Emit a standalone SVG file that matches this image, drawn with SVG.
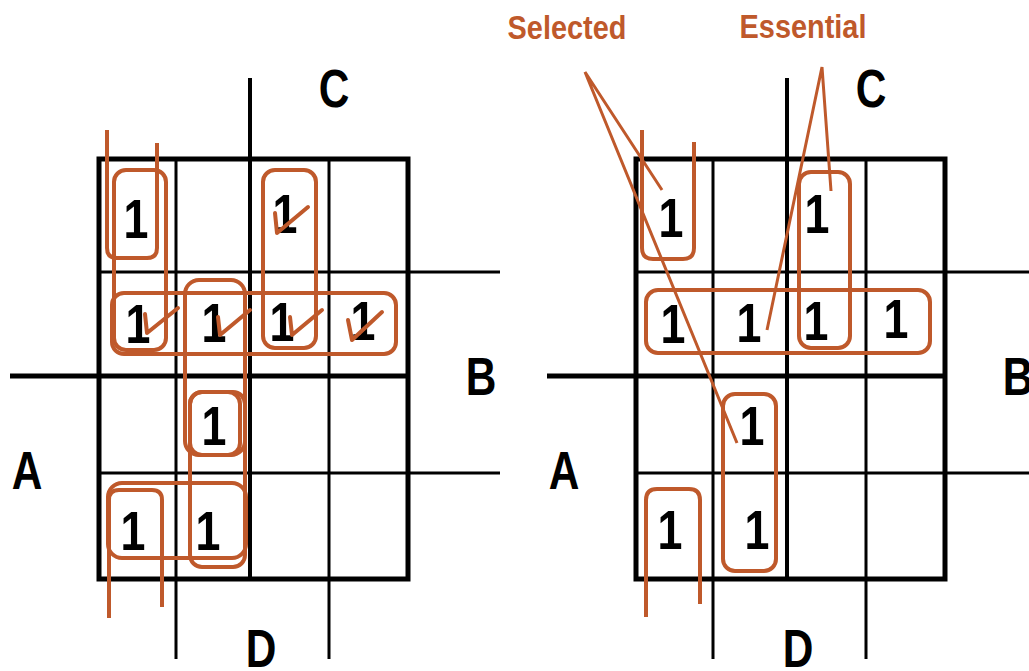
<svg xmlns="http://www.w3.org/2000/svg" xmlns:xlink="http://www.w3.org/1999/xlink" width="1029" height="671" viewBox="0 0 1029 671">
<style>
.ln{stroke:#000;fill:none;stroke-linecap:butt}
.bd{stroke-width:5}
.md{stroke-width:4}
.tn{stroke-width:3}
.loop{fill:none;stroke:#BF592B;stroke-width:4;stroke-linejoin:round}
.chk{fill:none;stroke:#BF592B;stroke-width:4;stroke-linejoin:round;stroke-linecap:round}
.lead{fill:none;stroke:#BF592B;stroke-width:3}
.one{font-family:"Liberation Sans",Arial,sans-serif;font-weight:bold;font-size:56px;text-anchor:middle;fill:#000}
.lbl{font-family:"Liberation Sans",Arial,sans-serif;font-weight:bold;font-size:53px;text-anchor:middle;fill:#000}
.ann{font-family:"Liberation Sans",Arial,sans-serif;font-weight:bold;font-size:34px;text-anchor:middle;fill:#BF592B}
</style>
<defs>
<g id="grid">
<rect class="ln bd" x="99" y="159" width="309" height="420"/>
<line class="ln tn" x1="176" y1="159" x2="176" y2="659"/>
<line class="ln md" x1="250" y1="78" x2="250" y2="579"/>
<line class="ln tn" x1="329" y1="159" x2="329" y2="659"/>
<line class="ln tn" x1="99" y1="272" x2="500" y2="272"/>
<line class="ln bd" x1="10" y1="376" x2="408" y2="376"/>
<line class="ln tn" x1="99" y1="473" x2="500" y2="473"/>
</g>
<g id="labels">
<text class="lbl" transform="translate(334,107) scale(0.8,1)">C</text>
<text class="lbl" transform="translate(481,395) scale(0.8,1)">B</text>
<text class="lbl" transform="translate(27,489) scale(0.8,1)">A</text>
<text class="lbl" transform="translate(261,667) scale(0.8,1)">D</text>
</g>
</defs>

<g id="map-left">
<use xlink:href="#grid" href="#grid"/>
<use xlink:href="#labels" href="#labels"/>
<g id="left-ones">
<text class="one" transform="translate(136,238) scale(0.8,1)">1</text>
<text class="one" transform="translate(285,233) scale(0.8,1)">1</text>
<text class="one" transform="translate(138,343) scale(0.8,1)">1</text>
<text class="one" transform="translate(214,342) scale(0.8,1)">1</text>
<text class="one" transform="translate(282,341) scale(0.8,1)">1</text>
<text class="one" transform="translate(363,340) scale(0.8,1)">1</text>
<text class="one" transform="translate(214,445) scale(0.8,1)">1</text>
<text class="one" transform="translate(133,550) scale(0.8,1)">1</text>
<text class="one" transform="translate(208,550) scale(0.8,1)">1</text>
</g>
<g id="left-loops">
<path class="loop" d="M107,130 V248 Q107,258 117,258 H147 Q157,258 157,248 V143"/>
<rect class="loop" x="114" y="170" width="52" height="180" rx="12"/>
<rect class="loop" x="112" y="293" width="284" height="61" rx="12"/>
<rect class="loop" x="263" y="170" width="53" height="178" rx="12"/>
<rect class="loop" x="185" y="280" width="60" height="175" rx="14"/>
<rect class="loop" x="190" y="392" width="50" height="63" rx="12"/>
<rect class="loop" x="190" y="392" width="55" height="175" rx="12"/>
<rect class="loop" x="108" y="483" width="138" height="75" rx="14"/>
<path class="loop" d="M109,618 V500 Q109,490 119,490 H152 Q162,490 162,500 V607"/>
</g>
<g id="left-checks">
<path class="chk" d="M275,213 L277,233 L308,207"/>
<path class="chk" d="M145,314 L147,333 L178,308"/>
<path class="chk" d="M218,317 L220,335 L250,310"/>
<path class="chk" d="M290,317 L292,335 L322,310"/>
<path class="chk" d="M348,320 L352,340 L382,312"/>
</g>
</g>

<g id="map-right">
<use xlink:href="#grid" href="#grid" transform="translate(537,0)"/>
<use xlink:href="#labels" href="#labels" transform="translate(537,0)"/>
<g id="right-ones">
<text class="one" transform="translate(671,237) scale(0.8,1)">1</text>
<text class="one" transform="translate(817,233) scale(0.8,1)">1</text>
<text class="one" transform="translate(673,343) scale(0.8,1)">1</text>
<text class="one" transform="translate(749,342) scale(0.8,1)">1</text>
<text class="one" transform="translate(816,340) scale(0.8,1)">1</text>
<text class="one" transform="translate(896,338) scale(0.8,1)">1</text>
<text class="one" transform="translate(752,445) scale(0.8,1)">1</text>
<text class="one" transform="translate(670,549) scale(0.8,1)">1</text>
<text class="one" transform="translate(757,549) scale(0.8,1)">1</text>
</g>
<g id="right-loops">
<path class="loop" d="M642,130 V248 Q642,259 653,259 H683 Q694,259 694,248 V142"/>
<rect class="loop" x="799" y="172" width="51" height="176" rx="12"/>
<rect class="loop" x="646" y="290" width="284" height="63" rx="12"/>
<rect class="loop" x="723" y="394" width="53" height="177" rx="12"/>
<path class="loop" d="M646,617 V500 Q646,489 657,489 H689 Q700,489 700,500 V604"/>
</g>
</g>

<g id="annotations">
<text class="ann" transform="translate(567,39) scale(0.85,1)">Selected</text>
<text class="ann" transform="translate(803,38) scale(0.85,1)">Essential</text>
<g id="connectors">
<path class="lead" d="M662,190 L585,72 L737,443"/>
<path class="lead" d="M831,191 L822,67 L767,330"/>
</g>
</g>
</svg>
